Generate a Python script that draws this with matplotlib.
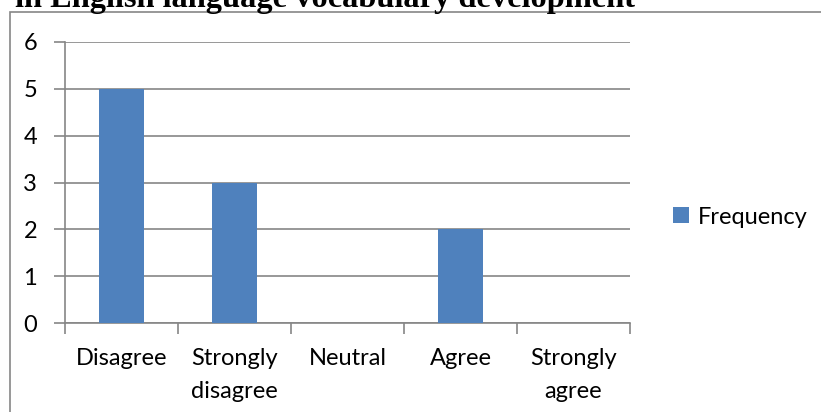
import matplotlib.pyplot as plt
from matplotlib.patches import Rectangle

categories = ["Disagree", "Strongly\ndisagree", "Neutral", "Agree", "Strongly\nagree"]
frequency = [5, 3, 0, 2, 0]
yticks = [0, 1, 2, 3, 4, 5, 6]

plt.rcParams["font.family"] = ["Lato", "DejaVu Sans"]

fig = plt.figure(figsize=(8.21, 4.12), dpi=100)
ax = fig.add_axes([65/821, 1-323/412, 565/821, 281/412])

x = list(range(len(categories)))
ax.bar(x, frequency, width=0.39, color="#4F81BD", label="Frequency", zorder=3)
ax.set_xlim(-0.5, len(categories)-0.5)
ax.set_ylim(0, 6)
ax.set_yticks(yticks)
ax.yaxis.grid(True, color="#868686", lw=1.2, zorder=0)
ax.set_xticks([i-0.5 for i in range(len(categories)+1)], minor=False)
ax.set_xticklabels([])
ax.set_xticks(x, minor=True)
ax.set_xticklabels(categories, minor=True, fontsize=17, linespacing=1.7, va="top")
ax.tick_params(axis="x", which="minor", length=0, pad=18)
ax.tick_params(axis="x", which="major", length=8, color="#868686", width=1.2)
ax.tick_params(axis="y", length=8, color="#868686", width=1.2, labelsize=17, pad=12)
for s in ["top", "right"]:
    ax.spines[s].set_visible(False)
for s in ["left", "bottom"]:
    ax.spines[s].set_color("#868686")
    ax.spines[s].set_linewidth(1.2)

fig.legend(loc="center left", bbox_to_anchor=(652/821, 1-217/412), frameon=False,
           fontsize=17, handlelength=0.65, handleheight=0.65, handletextpad=0.4)

fig.patches.append(Rectangle((10/821, -0.1), 1.2, 1.1-12/412, transform=fig.transFigure,
                             fill=False, edgecolor="#868686", lw=1.2))
fig.text(15/821, 1-6.5/412, "in English language vocabulary development", family="Liberation Serif",
         fontweight="bold", fontsize=23.3, va="baseline", ha="left")

fig.savefig("out.png", dpi=100)
